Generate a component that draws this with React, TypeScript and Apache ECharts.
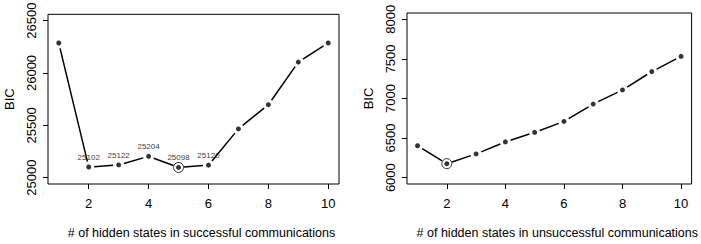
import React, { useEffect, useRef } from "react";
import * as echarts from "echarts";

const states = [1, 2, 3, 4, 5, 6, 7, 8, 9, 10];
const bicSuccess = [26286, 25102, 25122, 25204, 25098, 25120, 25466, 25697, 26104, 26286];
const bicUnsuccess = [6403, 6177, 6300, 6452, 6572, 6710, 6930, 7108, 7340, 7532];
const labeledSuccess = [2, 3, 4, 5, 6];
const bestSuccess = 5;
const bestUnsuccess = 2;
const xTicks = [2, 4, 6, 8, 10];
const yTicksSuccess = [25000, 25500, 26000, 26500];
const yTicksUnsuccess = [6000, 6500, 7000, 7500, 8000];
const xTitleSuccess = "# of hidden states in successful communications";
const xTitleUnsuccess = "# of hidden states in unsuccessful communications";
const yTitle = "BIC";

const FONT = "Liberation Sans";

export default function App() {
  const ref = useRef<HTMLDivElement>(null);
  useEffect(() => {
    if (!ref.current) return;
    const chart = echarts.init(ref.current, undefined, { renderer: "svg" });
    const pad = (lo: number, hi: number) => [lo - (hi - lo) * 0.04, hi + (hi - lo) * 0.04];
    const [xMin, xMax] = pad(1, 10);
    const [ys0, ys1] = pad(25000, 26500);
    const [yu0, yu1] = pad(6000, 8000);

    const mkX = (idx: number, title: string) => ({
      type: "value",
      gridIndex: idx,
      min: xMin,
      max: xMax,
      axisLine: { show: false },
      splitLine: { show: false },
      axisTick: { show: true, inside: false, length: 5, customValues: xTicks, lineStyle: { color: "#000", width: 1 } },
      axisLabel: {
        customValues: xTicks,
        formatter: (v: number) => String(v),
        color: "#000",
        fontSize: 13,
        fontFamily: FONT,
        margin: 13,
      },
      name: title,
      nameLocation: "middle",
      nameGap: 42,
      nameTextStyle: { color: "#000", fontSize: 12.5, fontFamily: FONT, padding: [0, 0, 0, 16] },
    });
    const mkY = (idx: number, lo: number, hi: number, ticks: number[]) => ({
      type: "value",
      gridIndex: idx,
      min: lo,
      max: hi,
      axisLine: { show: false },
      splitLine: { show: false },
      axisTick: { show: true, inside: false, length: 5, customValues: ticks, lineStyle: { color: "#000", width: 1 } },
      axisLabel: {
        customValues: ticks,
        formatter: (v: number) => String(v),
        color: "#000",
        fontSize: 13,
        fontFamily: FONT,
        rotate: 90,
        margin: 10,
      },
      name: yTitle,
      nameLocation: "middle",
      nameRotate: 90,
      nameGap: 32,
      nameTextStyle: { color: "#000", fontSize: 13, fontFamily: FONT },
    });

    const GAP = 5.5;
    const segSeries = (idx: number, vals: number[]) => ({
      type: "custom",
      xAxisIndex: idx,
      yAxisIndex: idx,
      z: 2,
      silent: true,
      encode: { x: [0, 2], y: [1, 3] },
      data: states.slice(0, -1).map((s, i) => [s, vals[i], states[i + 1], vals[i + 1]]),
      renderItem: (_params: any, api: any) => {
        const p1 = api.coord([api.value(0), api.value(1)]);
        const p2 = api.coord([api.value(2), api.value(3)]);
        const dx = p2[0] - p1[0];
        const dy = p2[1] - p1[1];
        const len = Math.sqrt(dx * dx + dy * dy);
        if (len <= GAP * 2) return null;
        const ux = dx / len;
        const uy = dy / len;
        return {
          type: "line",
          shape: {
            x1: p1[0] + ux * GAP,
            y1: p1[1] + uy * GAP,
            x2: p2[0] - ux * GAP,
            y2: p2[1] - uy * GAP,
          },
          style: { stroke: "#000", lineWidth: 1.5 },
        };
      },
    });
    const dotSeries = (idx: number, vals: number[], labeled: number[]) => ({
      type: "scatter",
      xAxisIndex: idx,
      yAxisIndex: idx,
      symbol: "circle",
      symbolSize: 5,
      itemStyle: { color: "#000" },
      z: 3,
      data: states.map((s, i) => ({
        value: [s, vals[i]],
        label: {
          show: labeled.includes(s),
          position: "top",
          distance: 3,
          formatter: String(vals[i]),
          color: "#000",
          fontSize: 8,
          fontFamily: FONT,
        },
      })),
    });
    const ringSeries = (idx: number, vals: number[], best: number) => ({
      type: "scatter",
      xAxisIndex: idx,
      yAxisIndex: idx,
      symbol: "circle",
      symbolSize: 10,
      itemStyle: { color: "none", borderColor: "#000", borderWidth: 1 },
      z: 4,
      data: [[best, vals[states.indexOf(best)]]],
    });

    chart.setOption({
      animation: false,
      backgroundColor: "#fff",
      grid: [
        { left: 48, top: 13, width: 291, height: 184, show: true, borderColor: "#000", borderWidth: 1, backgroundColor: "transparent" },
        { left: 407, top: 13, width: 290, height: 184, show: true, borderColor: "#000", borderWidth: 1, backgroundColor: "transparent" },
      ],
      xAxis: [mkX(0, xTitleSuccess), mkX(1, xTitleUnsuccess)],
      yAxis: [mkY(0, ys0, ys1, yTicksSuccess), mkY(1, yu0, yu1, yTicksUnsuccess)],
      series: [
        segSeries(0, bicSuccess),
        dotSeries(0, bicSuccess, labeledSuccess),
        ringSeries(0, bicSuccess, bestSuccess),
        segSeries(1, bicUnsuccess),
        dotSeries(1, bicUnsuccess, []),
        ringSeries(1, bicUnsuccess, bestUnsuccess),
      ],
    });
    return () => chart.dispose();
  }, []);
  return <div ref={ref} style={{ position: "fixed", left: 0, top: 0, width: 701, height: 244, background: "#fff" }} />;
}
